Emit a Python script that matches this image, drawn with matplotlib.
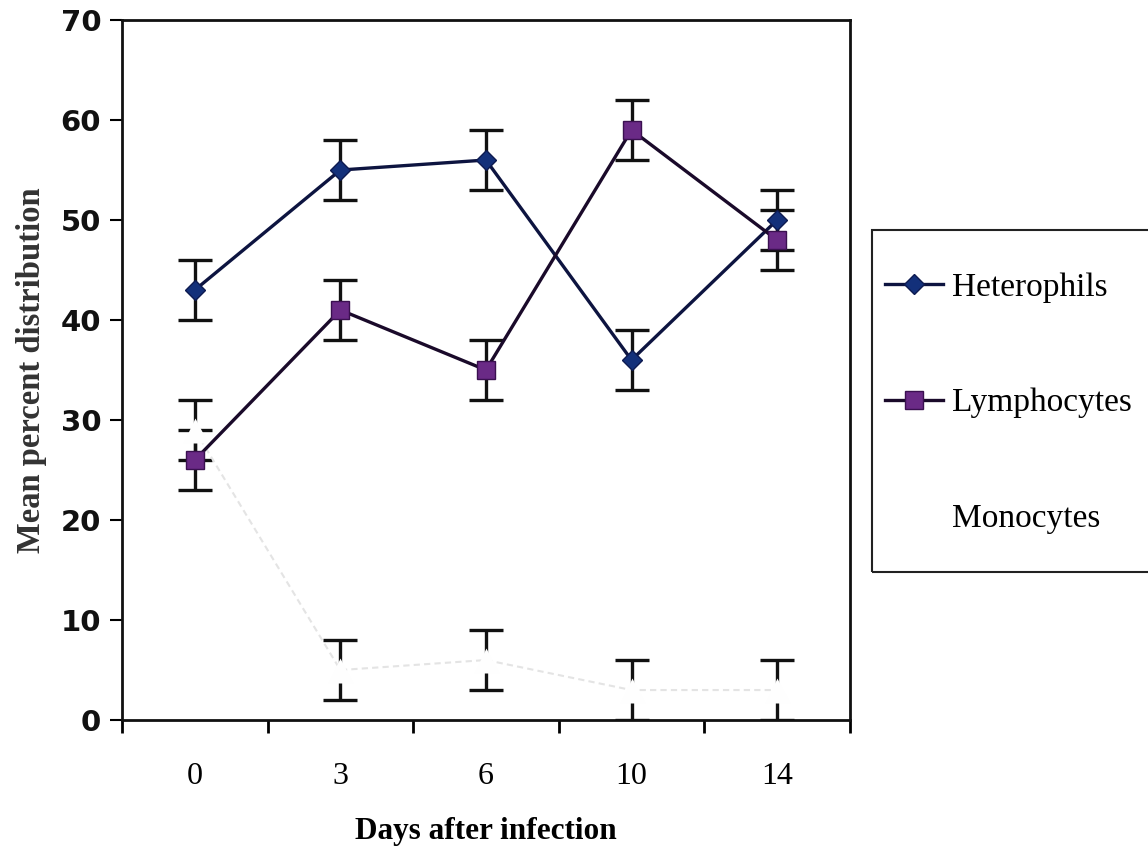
import matplotlib.pyplot as plt
from matplotlib.patches import Rectangle
import numpy as np

days = ["0", "3", "6", "10", "14"]
heterophils = [43, 55, 56, 36, 50]
heterophils_err = [3, 3, 3, 3, 3]
lymphocytes = [26, 41, 35, 59, 48]
lymphocytes_err = [3, 3, 3, 3, 3]
monocytes = [29, 5, 6, 3, 3]
monocytes_err = [3, 3, 3, 3, 3]

plt.rcParams["font.family"] = ["Liberation Serif", "DejaVu Serif"]

fig = plt.figure(figsize=(11.48, 8.48), dpi=100)
ax = fig.add_axes([0.1063, 0.1509, 0.634, 0.8255])

x = np.arange(len(days)) + 0.5
err_style = dict(fmt="none", ecolor="#111111", elinewidth=2.4, capsize=12, capthick=2.4, zorder=2)

# monocytes: faint line, error bars with a pale marker hiding the middle
ax.errorbar(x, monocytes, yerr=monocytes_err, **err_style)
ax.plot(x, monocytes, color="#e4e4e4", linewidth=1.5, linestyle=(0, (3, 2)), zorder=3)
ax.plot(x, monocytes, linestyle="none", marker="^", markersize=18,
        markerfacecolor="#fefefe", markeredgecolor="none", zorder=3)

ax.errorbar(x, heterophils, yerr=heterophils_err, **err_style)
ax.errorbar(x, lymphocytes, yerr=lymphocytes_err, **err_style)

ax.plot(x, heterophils, color="#0d1440", linewidth=2.4, marker="D", markersize=10,
        markerfacecolor="#13307a", markeredgecolor="#0d1a50", zorder=4, label="Heterophils")
ax.plot(x, lymphocytes, color="#1a0a2a", linewidth=2.4, marker="s", markersize=12.5,
        markerfacecolor="#6a2a86", markeredgecolor="#3a1050", zorder=4, label="Lymphocytes")
ax.plot([], [], color="none", label="Monocytes")

ax.set_xlim(0, len(days))
ax.set_ylim(0, 70)
ax.set_yticks(np.arange(0, 71, 10))
ax.set_yticklabels([str(v) for v in range(0, 71, 10)], fontsize=21, fontweight="bold",
                   family=["DejaVu Sans"], color="#111111")
ax.set_xticks(x)
ax.set_xticklabels(days, fontsize=23)
ax.set_xticks(np.arange(0, len(days) + 1), minor=True)
ax.tick_params(axis="x", which="major", length=0, pad=30)
ax.tick_params(axis="x", which="minor", length=9, width=2, direction="out")
ax.tick_params(axis="y", length=9, width=1.5, direction="out", pad=6)

for spine in ax.spines.values():
    spine.set_linewidth(2)
    spine.set_color("#111111")

ax.set_xlabel("Days after infection", fontsize=22.5, fontweight="bold", labelpad=19)
ax.set_ylabel("Mean percent distribution", fontsize=23.5, fontweight="bold",
              color="#333333", labelpad=10)

# legend frame drawn separately so its padding can differ per side
fig.add_artist(Rectangle((872 / 1148, 1 - 572 / 848), 0.26, (572 - 230) / 848,
                         transform=fig.transFigure, fill=False, edgecolor="#222222",
                         linewidth=1.5))
fig.legend(loc="center left", bbox_to_anchor=(885 / 1148, 1 - 403 / 848), fontsize=24,
           frameon=False, handlelength=1.75, handletextpad=0.25, labelspacing=2.55,
           borderpad=0, borderaxespad=0)

fig.savefig("out.png", dpi=100)
